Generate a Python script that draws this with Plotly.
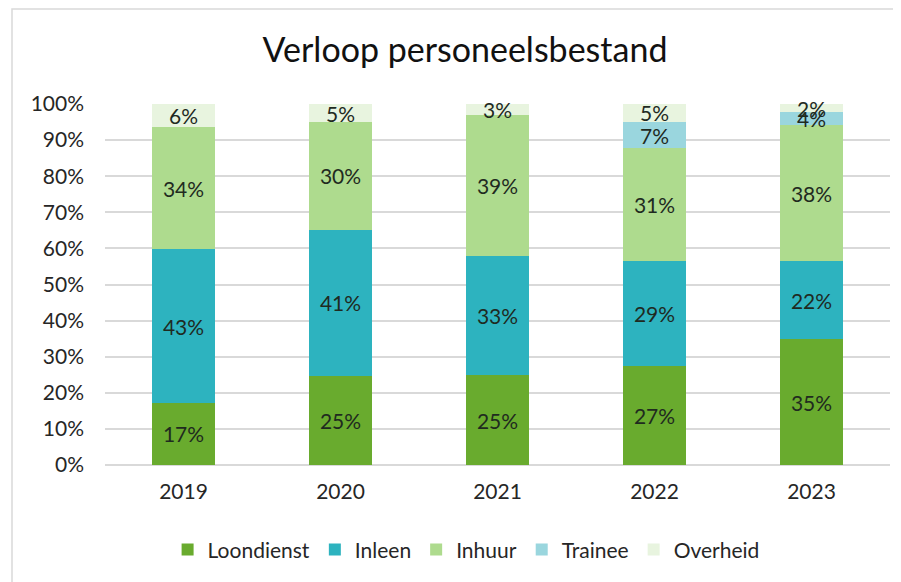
import plotly.graph_objects as go

years = ["2019", "2020", "2021", "2022", "2023"]
loondienst = [0.172, 0.246, 0.248, 0.273, 0.348]
inleen = [0.426, 0.406, 0.332, 0.292, 0.216]
inhuur = [0.338, 0.298, 0.390, 0.312, 0.377]
trainee = [0.0, 0.0, 0.0, 0.074, 0.036]
overheid = [0.064, 0.050, 0.030, 0.049, 0.023]

series = [
    ("Loondienst", loondienst, "#69AB2E"),
    ("Inleen", inleen, "#2DB3BF"),
    ("Inhuur", inhuur, "#AEDB8E"),
    ("Trainee", trainee, "#9AD6DE"),
    ("Overheid", overheid, "#E8F4DF"),
]

FONT = "Lato, 'Open Sans', sans-serif"

fig = go.Figure()
for name, vals, color in series:
    texts = [f"{round(v*100)}%" if v > 0 else "" for v in vals]
    fig.add_trace(go.Bar(
        name=name, x=years, y=vals, marker_color=color, marker_line_width=0,
        text=texts, textposition="inside", insidetextanchor="middle",
        textangle=0, constraintext="none", cliponaxis=False,
        textfont=dict(family=FONT, size=21, color="#1F2A1F"),
        hoverinfo="skip",
    ))

W, H = 893, 574
L, R, T, B = 97, 11, 96, 117
pw, ph = W - L - R, H - T - B

fig.update_layout(
    barmode="stack",
    bargap=0.6,
    width=W, height=H,
    margin=dict(l=L, r=R, t=T, b=B),
    paper_bgcolor="white", plot_bgcolor="white",
    title=dict(text="Verloop personeelsbestand", x=(457 - L) / pw, xanchor="center",
               xref="paper", y=1 - 42 / H, yanchor="middle",
               font=dict(family=FONT, size=34, color="#111111")),
    uniformtext=dict(minsize=21, mode="show"),
    legend=dict(orientation="h", x=0.46, xanchor="center", y=-0.235, yanchor="middle",
                font=dict(family=FONT, size=21, color="#262626"),
                traceorder="normal", itemwidth=30),
    xaxis=dict(showgrid=False, showline=False, ticks="",
               tickfont=dict(family=FONT, size=21, color="#262626"),
               ticklabelstandoff=12),
    yaxis=dict(range=[0, 1.0], tickvals=[i/10 for i in range(11)], tickformat=".0%",
               showgrid=True, gridcolor="#D9D9D9", gridwidth=1.5, zeroline=True,
               zerolinecolor="#D9D9D9", zerolinewidth=1.5,
               tickfont=dict(family=FONT, size=21, color="#262626"), ticks="",
               ticklabelstandoff=20),
    showlegend=True,
)

fig.add_shape(type="rect", xref="paper", yref="paper",
              x0=(4 - L) / pw, x1=(930 - L) / pw, y0=-(600 - (H - B)) / ph, y1=1 + (T - 1) / ph,
              line=dict(color="#D9D9D9", width=1.5), fillcolor="rgba(0,0,0,0)", layer="below")

fig.write_html("out.html")
